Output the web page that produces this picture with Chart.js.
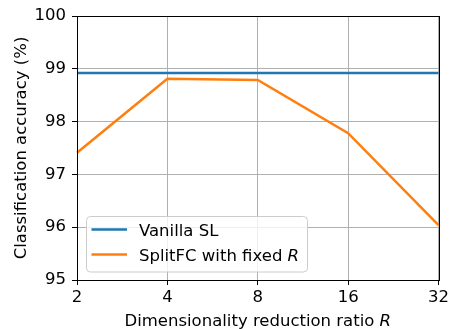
<!DOCTYPE html>
<html>
<head>
<meta charset="utf-8">
<script src="https://cdn.jsdelivr.net/npm/chart.js@4.4.0/dist/chart.umd.min.js"></script>
<style>
html,body{margin:0;padding:0;background:#fff;}
canvas{display:block;}
</style>
</head>
<body>
<canvas id="c" width="452" height="329"></canvas>
<script>
const categories = ['2', '4', '8', '16', '32'];
const vanillaSL = [98.92, 98.92, 98.92, 98.92, 98.92];
const splitFC = [97.41, 98.81, 98.79, 97.78, 96.04];
const yTickValues = [95, 96, 97, 98, 99, 100];
const seriesLabels = ['Vanilla SL', 'SplitFC with fixed R'];

const FONT = 'DejaVu Sans';
const FS = 16.5;

function drawMixed(ctx, parts, x, y, align) {
  let total = 0;
  const widths = parts.map(p => {
    ctx.font = (p.italic ? 'italic ' : '') + FS + 'px "' + FONT + '"';
    const w = ctx.measureText(p.text).width;
    total += w;
    return w;
  });
  let cx = align === 'center' ? x - total / 2 : x;
  ctx.textAlign = 'left';
  parts.forEach((p, i) => {
    ctx.font = (p.italic ? 'italic ' : '') + FS + 'px "' + FONT + '"';
    ctx.fillText(p.text, cx, y);
    cx += widths[i];
  });
}

const decorPlugin = {
  id: 'decor',
  afterDraw(chart) {
    const ctx = chart.ctx;
    const a = chart.chartArea;
    ctx.save();
    ctx.strokeStyle = '#000';
    ctx.lineWidth = 1;
    ctx.strokeRect(Math.round(a.left) + 0.5, Math.round(a.top) + 0.5, Math.round(a.right - a.left), Math.round(a.bottom - a.top));

    // legend
    const lx = 86.5, ly = 216.5, lw = 221, lh = 55.5, r = 4;
    ctx.beginPath();
    ctx.roundRect(lx, ly, lw, lh, r);
    ctx.fillStyle = 'rgba(255,255,255,0.8)';
    ctx.fill();
    ctx.strokeStyle = '#cccccc';
    ctx.lineWidth = 1;
    ctx.stroke();
    const rows = [229.5, 254.5];
    chart.data.datasets.forEach((ds, i) => {
      ctx.strokeStyle = ds.borderColor;
      ctx.lineWidth = 2.5;
      ctx.beginPath();
      ctx.moveTo(91.5, rows[i]);
      ctx.lineTo(127, rows[i]);
      ctx.stroke();
      ctx.fillStyle = '#000';
      ctx.textBaseline = 'alphabetic';
      const lab = ds.label;
      if (lab.endsWith(' R')) {
        drawMixed(ctx, [{text: lab.slice(0, -1), italic: false}, {text: 'R', italic: true}], 139, rows[i] + 6, 'left');
      } else {
        drawMixed(ctx, [{text: lab, italic: false}], 139, rows[i] + 6, 'left');
      }
    });

    // x title
    ctx.fillStyle = '#000';
    ctx.textBaseline = 'alphabetic';
    drawMixed(ctx, [{text: 'Dimensionality reduction ratio ', italic: false}, {text: 'R', italic: true}], (a.left + a.right) / 2, 326, 'center');

    // y title
    ctx.save();
    ctx.translate(25.5, (a.top + a.bottom) / 2);
    ctx.rotate(-Math.PI / 2);
    ctx.font = FS + 'px "' + FONT + '"';
    ctx.textAlign = 'center';
    ctx.fillText('Classification accuracy (%)', 0, 0);
    ctx.restore();
    ctx.restore();
  }
};

new Chart(document.getElementById('c'), {
  type: 'line',
  data: {
    labels: categories,
    datasets: [
      {label: seriesLabels[0], data: vanillaSL, borderColor: '#1f77b4', backgroundColor: '#1f77b4', borderWidth: 2.5, pointRadius: 0, tension: 0, fill: false},
      {label: seriesLabels[1], data: splitFC, borderColor: '#ff7f0e', backgroundColor: '#ff7f0e', borderWidth: 2.5, pointRadius: 0, tension: 0, fill: false}
    ]
  },
  options: {
    responsive: false,
    animation: false,
    devicePixelRatio: 1,
    layout: {padding: {top: 16, right: 11, left: 0, bottom: 0}},
    plugins: {legend: {display: false}, tooltip: {enabled: false}},
    scales: {
      x: {
        type: 'category',
        offset: false,
        grid: {color: '#b0b0b0', lineWidth: 1, tickColor: '#000', tickLength: 5, drawTicks: true},
        border: {color: '#000', width: 1},
        ticks: {color: '#000', font: {family: FONT, size: FS}, padding: 3, maxRotation: 0, autoSkip: false},
        afterFit(s) { s.height = 49; }
      },
      y: {
        min: 95,
        max: 100,
        afterBuildTicks(s) { s.ticks = yTickValues.map(v => ({value: v})); },
        grid: {color: '#b0b0b0', lineWidth: 1, tickColor: '#000', tickLength: 5, drawTicks: true},
        border: {color: '#000', width: 1},
        ticks: {color: '#000', font: {family: FONT, size: FS}, padding: 6},
        afterFit(s) { s.width = 77; }
      }
    }
  },
  plugins: [decorPlugin]
});
</script>
</body>
</html>
